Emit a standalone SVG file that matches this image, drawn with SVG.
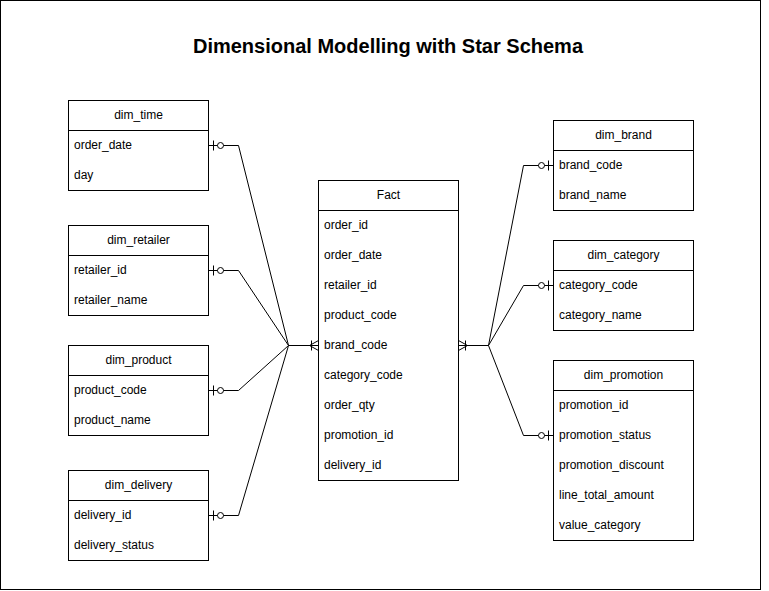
<svg xmlns="http://www.w3.org/2000/svg" width="769" height="591" viewBox="0 0 769 591">
<style>
.box{fill:#fff;stroke:#000;stroke-width:1}
.sep{stroke:#000;stroke-width:1}
.hd{font-family:"Liberation Sans",Arial,sans-serif;font-size:12px;fill:#000;text-anchor:middle}
.rw{font-family:"Liberation Sans",Arial,sans-serif;font-size:12px;fill:#000}
.ttl{font-family:"Liberation Sans",Arial,sans-serif;font-size:20px;font-weight:bold;fill:#000;text-anchor:middle}
.cn{fill:none;stroke:#000;stroke-width:1;marker-start:url(#zeroOne)}
.stem{fill:none;stroke:#000;stroke-width:1;marker-end:url(#oneMany)}
</style>
<defs>
<marker id="zeroOne" viewBox="0 -8 20 16" refX="0" refY="0" markerWidth="20" markerHeight="16" markerUnits="userSpaceOnUse" orient="auto">
<line x1="5" y1="-5" x2="5" y2="5" stroke="#000" stroke-width="1"/>
<circle cx="12" cy="0" r="3" fill="#fff" stroke="#000" stroke-width="1"/>
</marker>
<marker id="oneMany" viewBox="-14 -8 15 16" refX="0" refY="0" markerWidth="15" markerHeight="16" markerUnits="userSpaceOnUse" orient="auto">
<path d="M0,-5 L-9,0 L0,5" fill="none" stroke="#000" stroke-width="1"/>
<line x1="-7" y1="-5" x2="-7" y2="5" stroke="#000" stroke-width="1"/>
</marker>
</defs>
<rect x="0.5" y="0.5" width="760" height="589" fill="#fff" stroke="#000" stroke-width="1"/>
<text class="ttl" x="388" y="53">Dimensional Modelling with Star Schema</text>

<g id="connectors">
<path class="cn" d="M208.5,145.5 L238.5,145.5 L288.5,345.5"/>
<path class="cn" d="M208.5,270.5 L238.5,270.5 L288.5,345.5"/>
<path class="cn" d="M208.5,390.5 L238.5,390.5 L288.5,345.5"/>
<path class="cn" d="M208.5,515.5 L238.5,515.5 L288.5,345.5"/>
<path class="stem" d="M288.5,345.5 L318.5,345.5"/>
<path class="cn" d="M553.5,165.5 L523.5,165.5 L488.5,345.5"/>
<path class="cn" d="M553.5,285.5 L523.5,285.5 L488.5,345.5"/>
<path class="cn" d="M553.5,435.5 L523.5,435.5 L488.5,345.5"/>
<path class="stem" d="M488.5,345.5 L458.5,345.5"/>
</g>

<g id="dim_time">
<rect class="box" x="68.5" y="100.5" width="140" height="90"/>
<line class="sep" x1="68.5" y1="130.5" x2="208.5" y2="130.5"/>
<text class="hd" x="138.5" y="119">dim_time</text>
<text class="rw" x="74" y="149">order_date</text>
<text class="rw" x="74" y="179">day</text>
</g>

<g id="dim_retailer">
<rect class="box" x="68.5" y="225.5" width="140" height="90"/>
<line class="sep" x1="68.5" y1="255.5" x2="208.5" y2="255.5"/>
<text class="hd" x="138.5" y="244">dim_retailer</text>
<text class="rw" x="74" y="274">retailer_id</text>
<text class="rw" x="74" y="304">retailer_name</text>
</g>

<g id="dim_product">
<rect class="box" x="68.5" y="345.5" width="140" height="90"/>
<line class="sep" x1="68.5" y1="375.5" x2="208.5" y2="375.5"/>
<text class="hd" x="138.5" y="364">dim_product</text>
<text class="rw" x="74" y="394">product_code</text>
<text class="rw" x="74" y="424">product_name</text>
</g>

<g id="dim_delivery">
<rect class="box" x="68.5" y="470.5" width="140" height="90"/>
<line class="sep" x1="68.5" y1="500.5" x2="208.5" y2="500.5"/>
<text class="hd" x="138.5" y="489">dim_delivery</text>
<text class="rw" x="74" y="519">delivery_id</text>
<text class="rw" x="74" y="549">delivery_status</text>
</g>

<g id="fact">
<rect class="box" x="318.5" y="180.5" width="140" height="300"/>
<line class="sep" x1="318.5" y1="210.5" x2="458.5" y2="210.5"/>
<text class="hd" x="388.5" y="199">Fact</text>
<text class="rw" x="324" y="229">order_id</text>
<text class="rw" x="324" y="259">order_date</text>
<text class="rw" x="324" y="289">retailer_id</text>
<text class="rw" x="324" y="319">product_code</text>
<text class="rw" x="324" y="349">brand_code</text>
<text class="rw" x="324" y="379">category_code</text>
<text class="rw" x="324" y="409">order_qty</text>
<text class="rw" x="324" y="439">promotion_id</text>
<text class="rw" x="324" y="469">delivery_id</text>
</g>

<g id="dim_brand">
<rect class="box" x="553.5" y="120.5" width="140" height="90"/>
<line class="sep" x1="553.5" y1="150.5" x2="693.5" y2="150.5"/>
<text class="hd" x="623.5" y="139">dim_brand</text>
<text class="rw" x="559" y="169">brand_code</text>
<text class="rw" x="559" y="199">brand_name</text>
</g>

<g id="dim_category">
<rect class="box" x="553.5" y="240.5" width="140" height="90"/>
<line class="sep" x1="553.5" y1="270.5" x2="693.5" y2="270.5"/>
<text class="hd" x="623.5" y="259">dim_category</text>
<text class="rw" x="559" y="289">category_code</text>
<text class="rw" x="559" y="319">category_name</text>
</g>

<g id="dim_promotion">
<rect class="box" x="553.5" y="360.5" width="140" height="180"/>
<line class="sep" x1="553.5" y1="390.5" x2="693.5" y2="390.5"/>
<text class="hd" x="623.5" y="379">dim_promotion</text>
<text class="rw" x="559" y="409">promotion_id</text>
<text class="rw" x="559" y="439">promotion_status</text>
<text class="rw" x="559" y="469">promotion_discount</text>
<text class="rw" x="559" y="499">line_total_amount</text>
<text class="rw" x="559" y="529">value_category</text>
</g>
</svg>
